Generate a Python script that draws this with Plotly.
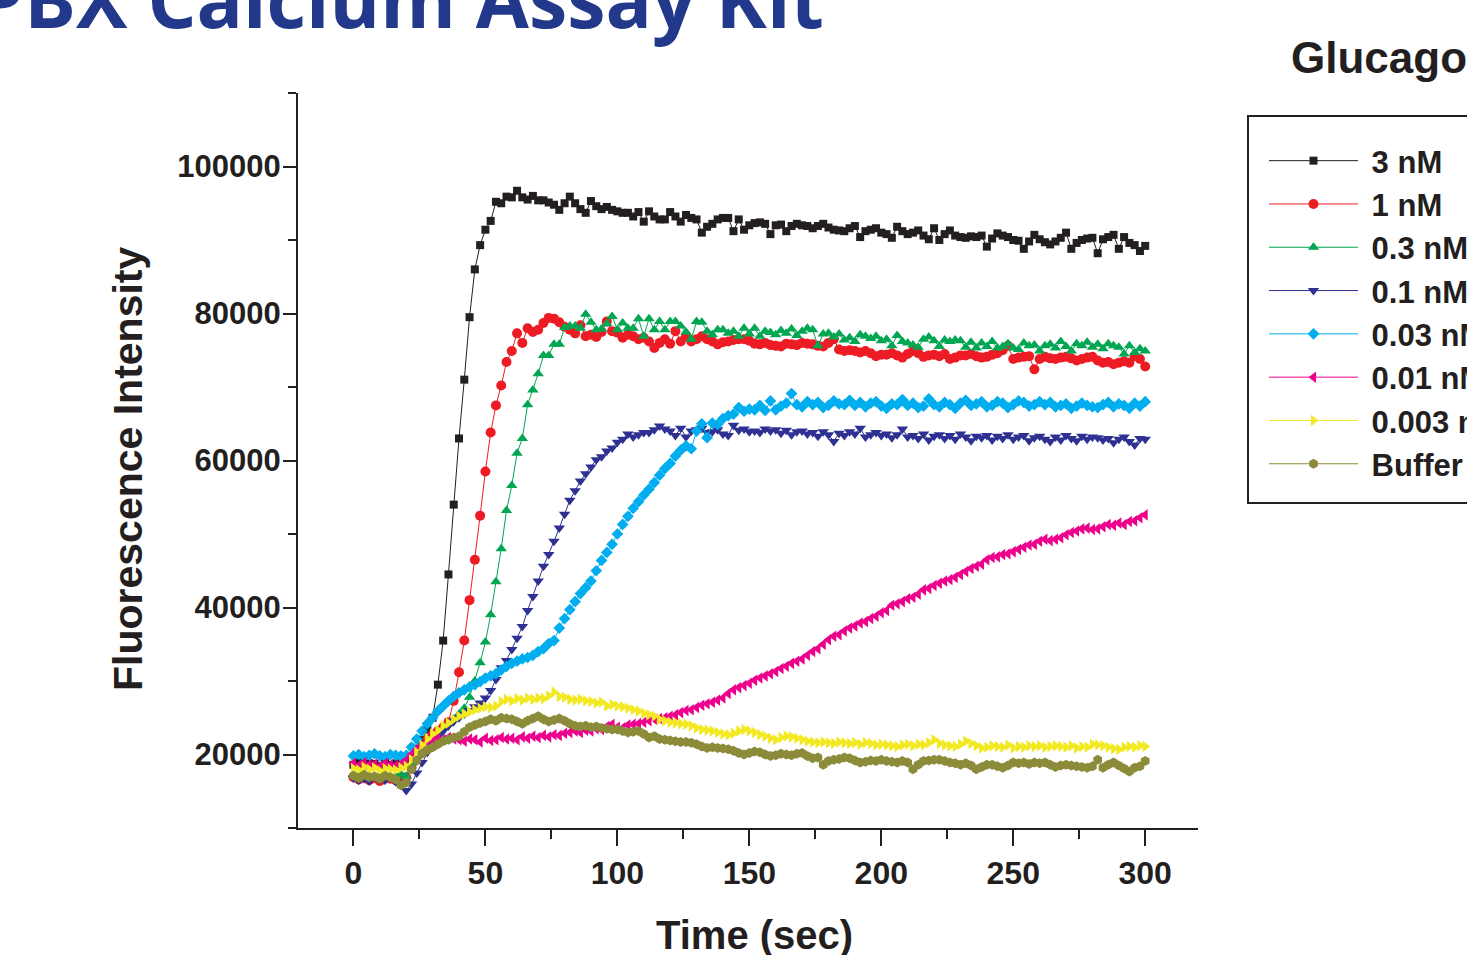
import plotly.graph_objects as go

# Sampling: one read every 2 s from 0 to 300 s
time_s = list(range(0, 302, 2))

# Fluorescence readings, in thousands of counts
nM_3 = [
    18.6, 18.9, 18.5, 18.8, 18.7, 18.4, 18.9, 18.6, 18.8, 18.5, 18.7,
    19.6, 20.8, 22.0, 23.4, 25.0, 29.5, 35.5, 44.5, 54.0, 63.0,
    71.0, 79.5, 86.0, 89.3, 91.4, 92.6, 95.2, 95.0, 95.9, 95.8,
    96.7, 95.8, 95.5, 96.0, 95.4, 95.4, 95.1, 94.8, 94.1, 95.0,
    95.9, 95.0, 94.2, 93.7, 95.3, 94.6, 94.2, 94.5, 94.1, 93.9,
    93.7, 93.7, 93.2, 93.8, 92.5, 93.9, 93.2, 92.8, 92.8, 93.8,
    93.2, 92.5, 93.4, 93.0, 92.8, 91.0, 91.8, 92.2, 92.8, 93.0,
    93.0, 91.2, 92.8, 91.4, 92.0, 92.3, 92.4, 92.2, 90.8, 92.0,
    92.1, 91.2, 91.9, 92.2, 92.0, 91.9, 91.6, 91.9, 92.2, 91.7,
    91.4, 91.3, 91.2, 91.6, 91.9, 90.4, 91.2, 91.4, 91.6, 91.0,
    90.8, 90.3, 91.8, 91.2, 90.8, 91.0, 91.3, 90.6, 90.1, 91.6,
    90.0, 90.8, 91.3, 90.6, 90.4, 90.3, 90.5, 90.4, 90.6, 89.1,
    90.2, 90.9, 90.6, 90.4, 90.0, 89.9, 88.8, 89.8, 90.7, 90.1,
    89.7, 89.4, 89.8, 90.3, 91.0, 88.8, 89.6, 90.0, 90.2, 90.3,
    88.2, 90.1, 90.4, 90.7, 88.8, 90.4, 89.6, 89.3, 88.5, 89.2,
]
nM_1 = [
    16.9, 16.6, 17.0, 16.5, 16.8, 16.4, 16.9, 16.7, 16.5, 16.8, 16.9,
    18.2, 19.6, 21.0, 22.0, 22.7, 23.2, 23.7, 24.4, 27.3, 31.2,
    35.5, 41.0, 46.5, 52.5, 58.5, 63.8, 67.5, 70.2, 73.4, 74.9,
    77.3, 76.0, 78.0, 77.5, 77.8, 78.7, 79.4, 79.3, 78.8, 78.2,
    77.8, 77.3, 78.4, 76.9, 77.1, 76.8, 77.5, 78.9, 77.6, 77.4,
    76.7, 77.1, 76.9, 76.5, 76.7, 76.2, 75.3, 76.0, 76.5, 75.9,
    77.6, 76.2, 76.9, 76.2, 76.5, 76.9, 76.5, 76.2, 75.8, 76.1,
    76.2, 76.4, 76.5, 76.5, 76.3, 75.9, 75.8, 76.0, 75.7, 75.6,
    75.5, 75.9, 75.8, 75.7, 76.0, 75.9, 75.8, 75.6, 75.5, 76.0,
    76.5, 75.1, 74.9, 75.0, 74.9, 74.7, 74.9, 74.6, 74.2, 74.4,
    74.4, 74.6, 74.3, 74.0, 74.5, 74.9, 74.6, 74.1, 74.3, 74.4,
    74.2, 74.5, 73.8, 74.0, 74.3, 74.3, 74.5, 74.2, 74.0, 74.1,
    74.4, 74.6, 75.0, 75.6, 73.8, 74.0, 74.1, 74.2, 72.4, 73.8,
    74.1, 73.9, 73.8, 74.0, 74.1, 73.9, 73.6, 73.8, 74.0, 74.1,
    73.6, 73.3, 73.4, 73.1, 73.3, 73.5, 73.3, 74.2, 73.8, 72.8,
]
nM_03 = [
    17.3, 17.0, 17.4, 17.1, 16.9, 17.3, 17.2, 16.8, 17.1, 17.3, 17.0,
    18.8, 19.9, 20.8, 21.6, 22.3, 22.9, 23.6, 24.2, 24.8, 25.5,
    26.3, 27.8, 30.0, 32.5, 35.3, 39.0, 43.5, 48.0, 53.2, 56.6,
    61.0, 63.0, 67.6, 69.6, 71.8, 74.3, 74.3, 75.8, 75.8, 78.1,
    78.3, 78.3, 78.0, 79.9, 78.8, 77.8, 77.9, 78.6, 79.6, 77.8,
    78.7, 78.0, 78.0, 79.3, 76.9, 79.3, 77.8, 78.9, 77.8, 78.9,
    78.9, 78.3, 77.5, 76.5, 78.9, 78.8, 77.6, 77.1, 77.8, 77.8,
    77.3, 77.6, 76.9, 78.0, 77.2, 78.0, 76.9, 77.6, 77.4, 77.1,
    77.7, 77.3, 77.9, 77.0, 77.6, 78.0, 77.8, 75.6, 77.2, 77.3,
    76.8, 77.2, 76.4, 76.7, 76.2, 77.1, 76.9, 76.6, 76.9, 76.3,
    76.5, 75.6, 77.0, 76.2, 76.0, 75.7, 75.4, 76.5, 76.8, 76.3,
    75.5, 76.4, 76.2, 76.4, 76.3, 75.4, 76.1, 75.3, 76.0, 75.5,
    76.2, 75.3, 75.5, 75.9, 75.3, 75.1, 76.0, 75.6, 75.7, 74.9,
    75.6, 75.8, 75.3, 76.2, 75.5, 74.9, 75.9, 75.6, 76.1, 75.4,
    75.8, 75.2, 75.9, 75.6, 75.4, 74.5, 75.6, 74.7, 75.2, 74.9,
]
nM_01 = [
    16.8, 16.5, 16.7, 16.4, 16.9, 16.6, 16.5, 16.8, 16.3, 15.8, 15.1,
    16.0, 17.5, 18.9, 20.3, 21.5, 22.4, 23.2, 23.9, 24.5, 25.0,
    25.5, 26.0, 26.5, 27.0, 27.7, 28.7, 30.2, 31.8, 32.8, 34.3,
    35.8, 37.4, 39.6, 41.5, 43.6, 45.6, 47.2, 49.0, 50.8, 52.7,
    54.6, 55.9, 57.2, 58.2, 59.1, 60.1, 60.5, 61.3, 61.7, 62.5,
    62.9, 63.6, 63.2, 63.5, 63.8, 63.8, 64.2, 64.7, 64.3, 64.0,
    63.4, 64.4, 63.2, 64.0, 64.2, 64.4, 63.8, 63.9, 64.2, 63.6,
    63.4, 64.8, 64.1, 64.3, 63.9, 64.0, 63.8, 64.3, 64.0, 64.2,
    63.7, 64.1, 63.5, 63.9, 64.0, 63.6, 63.8, 63.3, 63.9, 63.5,
    62.6, 63.7, 63.4, 63.9, 63.6, 64.4, 63.2, 63.5, 63.8, 63.4,
    63.6, 63.1, 63.5, 64.3, 63.2, 63.4, 63.0, 63.6, 62.8, 63.3,
    63.5, 63.0, 63.4, 62.9, 63.6, 63.2, 62.7, 63.3, 63.1, 63.4,
    62.8, 63.3, 63.0, 63.5, 62.9, 63.2, 63.4, 62.7, 63.1, 63.3,
    62.9, 62.6, 63.2, 62.8, 63.4, 63.0, 62.7, 63.3, 62.9, 63.2,
    63.1, 62.8, 63.0, 62.4, 62.9, 63.2, 62.6, 62.1, 63.0, 62.9,
]
nM_003 = [
    19.8, 20.0, 19.7, 19.9, 20.1, 19.8, 19.7, 20.0, 19.9, 19.8, 19.9,
    21.0, 22.1, 23.2, 24.2, 25.0, 25.9, 26.6, 27.3, 27.9, 28.4,
    28.8, 29.2, 29.5, 29.9, 30.4, 30.7, 31.0, 31.5, 32.0, 32.4,
    32.7, 33.0, 33.2, 33.5, 34.0, 34.4, 35.1, 35.5, 37.2, 38.5,
    39.7, 40.8, 41.9, 42.7, 43.6, 45.0, 46.4, 47.5, 48.6, 50.0,
    51.3, 52.4, 53.5, 54.4, 55.3, 56.1, 57.0, 58.0, 58.9, 59.6,
    60.6, 61.4, 62.0, 61.6, 64.0, 65.0, 63.1, 65.1, 64.9, 65.7,
    66.1, 66.3, 67.2, 66.7, 67.0, 66.9, 67.5, 66.8, 68.1, 66.9,
    67.4, 67.8, 69.1, 67.6, 67.3, 68.0, 67.6, 67.9, 67.2, 67.5,
    68.1, 67.7, 67.6, 68.2, 67.5, 67.9, 67.3, 67.8, 68.0, 67.4,
    67.1, 67.7, 67.6, 68.3, 67.5, 67.8, 67.2, 67.4, 68.4, 67.6,
    67.3, 67.9, 67.6, 67.1, 67.8, 68.2, 67.5, 67.7, 68.0, 67.3,
    67.5, 68.0, 67.8, 67.2, 67.6, 68.1, 67.9, 67.4, 67.6, 68.0,
    67.6, 67.9, 67.3, 67.5, 67.7, 67.1, 67.4, 67.8, 67.5, 67.3,
    67.2, 67.6, 67.9, 67.3, 67.7, 67.5, 67.1, 67.8, 67.4, 68.0,
]
nM_001 = [
    18.8, 18.5, 18.9, 18.6, 18.7, 18.4, 18.8, 18.6, 18.5, 18.7, 19.2,
    20.0, 20.7, 21.2, 21.6, 21.9, 22.2, 22.0, 22.3, 22.1, 22.0,
    21.8, 22.1, 22.0, 21.7, 22.2, 21.9, 22.0, 22.3, 22.1, 22.2,
    22.0, 22.4, 22.2, 22.5, 22.3, 22.6, 22.4, 22.7, 22.6, 22.9,
    23.0, 23.2, 23.0, 23.3, 23.2, 23.5, 23.4, 23.8, 24.1, 23.7,
    23.6, 24.0, 24.1, 24.2, 24.4, 24.6, 24.8, 24.9, 25.0, 25.2,
    25.4, 25.7, 26.0, 26.1, 26.4, 26.7, 26.9, 27.1, 27.4, 27.7,
    28.3, 28.8, 29.1, 29.4, 29.7, 30.1, 30.4, 30.7, 31.0, 31.3,
    31.7, 32.0, 32.4, 32.7, 33.0, 33.5, 34.0, 34.4, 35.0, 35.6,
    36.1, 36.3, 36.8, 37.2, 37.5, 37.9, 38.1, 38.5, 38.8, 39.3,
    39.6, 40.3, 40.5, 40.8, 41.2, 41.4, 41.8, 42.4, 42.6, 43.0,
    43.3, 43.6, 43.8, 44.1, 44.5, 44.9, 45.3, 45.6, 45.9, 46.5,
    46.8, 46.9, 47.2, 47.3, 47.6, 47.9, 48.2, 48.5, 48.6, 49.0,
    49.3, 49.1, 49.3, 49.5, 49.9, 50.2, 50.4, 50.7, 50.8, 50.6,
    50.7, 51.0, 51.3, 51.2, 51.5, 51.3, 51.7, 51.8, 52.2, 52.6,
]
nM_0003 = [
    18.1, 17.9, 18.3, 18.0, 18.2, 17.8, 18.1, 18.0, 17.9, 18.2, 18.4,
    19.3, 20.3, 21.3, 22.1, 22.8, 23.3, 23.9, 24.3, 24.8, 25.2,
    25.5, 25.8, 26.1, 26.3, 26.5, 26.4, 26.6, 27.2, 27.5, 27.3,
    27.6, 27.4, 27.7, 27.5, 27.7, 27.6, 28.0, 28.5, 27.9, 27.8,
    27.5, 27.4, 27.5, 27.3, 27.2, 27.0, 27.1, 26.6, 26.8, 26.6,
    26.5, 26.3, 26.1, 25.9, 25.6, 25.4, 25.2, 24.8, 24.6, 24.4,
    24.3, 24.2, 24.1, 23.9, 23.6, 23.4, 23.3, 23.2, 23.0, 22.8,
    22.7, 22.9, 23.2, 23.4, 23.2, 23.0, 22.7, 22.5, 22.2, 22.0,
    22.3, 22.5, 22.4, 22.2, 22.0, 21.8, 21.7, 21.6, 21.7, 21.6,
    21.5, 21.7, 21.6, 21.5, 21.6, 21.4, 21.6, 21.5, 21.3, 21.4,
    21.3, 21.2, 21.1, 21.3, 21.4, 21.2, 21.4, 21.3, 21.6, 22.0,
    21.5, 21.3, 21.2, 21.1, 21.4, 21.8, 21.5, 21.2, 20.9, 21.0,
    21.2, 21.1, 21.0, 21.3, 20.9, 21.1, 21.0, 21.2, 21.1, 21.2,
    21.0, 21.1, 21.2, 21.1, 21.0, 21.2, 20.9, 21.1, 21.0, 21.4,
    21.3, 21.2, 21.0, 20.8, 20.7, 21.0, 21.1, 21.0, 21.2, 21.1,
]
buffer = [
    17.1, 16.8, 17.2, 16.9, 17.0, 16.7, 17.1, 16.9, 16.6, 15.8, 16.2,
    18.0, 19.2, 20.1, 20.6, 21.0, 21.4, 21.8, 22.0, 22.3, 22.5,
    23.1, 23.7, 24.0, 24.3, 24.5, 24.8, 24.6, 25.0, 24.9, 24.8,
    24.5, 24.2, 24.6, 24.9, 25.2, 24.8, 24.5, 24.7, 24.9, 24.6,
    24.2, 23.9, 23.8, 23.9, 23.7, 23.8, 23.6, 23.5, 23.4, 23.4,
    23.2, 23.0, 23.1, 23.2, 22.8, 22.3, 22.5, 22.1, 22.0, 21.9,
    21.8, 21.7, 21.7, 21.6, 21.4, 21.1, 20.9, 21.0, 20.9, 20.8,
    20.7, 20.5, 20.2, 20.0, 20.2, 20.4, 20.3, 20.0, 19.8, 19.9,
    20.1, 20.0, 19.9, 20.1, 20.2, 19.8, 19.5, 19.6, 18.6, 19.1,
    19.3, 19.4, 19.6, 19.5, 19.2, 18.9, 19.0, 19.2, 19.1, 19.3,
    19.1, 19.0, 18.9, 19.1, 18.9, 18.0, 18.6, 19.1, 19.2, 19.3,
    19.3, 19.1, 18.9, 18.8, 18.6, 18.8, 18.5, 18.0, 18.3, 18.6,
    18.6, 18.4, 18.2, 18.5, 18.9, 18.8, 18.9, 18.7, 18.9, 18.8,
    18.9, 18.6, 18.3, 18.5, 18.6, 18.5, 18.4, 18.3, 18.2, 18.4,
    19.3, 18.2, 18.6, 18.9, 18.5, 18.1, 17.7, 18.2, 18.4, 19.1,
]

series_names = ["3 nM", "1 nM", "0.3 nM", "0.1 nM", "0.03 nM", "0.01 nM", "0.003 nM", "Buffer"]
series_values = [nM_3, nM_1, nM_03, nM_01, nM_003, nM_001, nM_0003, buffer]
series_colors = ["#231f20", "#ed1c24", "#00a651", "#2e3192", "#00aeef", "#ec008c", "#f2e923", "#8b8b3a"]
series_symbols = ["square", "circle", "triangle-up", "triangle-down", "diamond",
                  "triangle-left", "triangle-right", "hexagon"]
series_sizes = [8, 10, 10, 10, 9, 10, 10, 10]

x_ticks = [0, 50, 100, 150, 200, 250, 300]
y_ticks = [20000, 40000, 60000, 80000, 100000]

# Page geometry (px)
W, H = 1467, 955
L, R, T, B = 298, 1198, 93, 828
PW, PH = R - L, B - T


def px_x(px):
    return (px - L) / PW


def px_y(py):
    return (B - py) / PH


INK = "#231f20"
FONT = "Liberation Sans, Arial, sans-serif"
NBSP = "\u00a0"

fig = go.Figure()
for name, vals, col, sym, sz in zip(series_names, series_values, series_colors,
                                    series_symbols, series_sizes):
    assert len(vals) == len(time_s), name
    fig.add_trace(go.Scatter(
        x=time_s,
        y=[v * 1000 for v in vals],
        name=NBSP + name,
        mode="lines+markers",
        line=dict(color=col, width=1),
        marker=dict(symbol=sym, size=sz, color=col, line=dict(width=0)),
    ))

fig.update_layout(
    width=W, height=H, autosize=False,
    margin=dict(l=L, r=W - R, t=T, b=H - B, pad=0, autoexpand=False),
    paper_bgcolor="white", plot_bgcolor="white",
    font=dict(family=FONT, color=INK),
    showlegend=True,
    legend=dict(
        x=px_x(1264), y=px_y(134), xanchor="left", yanchor="top",
        bgcolor="rgba(0,0,0,0)", borderwidth=0,
        font=dict(family=FONT, size=31, color=INK, weight="bold"),
        itemwidth=89, tracegroupgap=0,
    ),
    xaxis=dict(
        range=[-21, 320], showgrid=False, zeroline=False,
        showline=True, linecolor=INK, linewidth=2,
        tickmode="array", tickvals=x_ticks, ticktext=[str(v) for v in x_ticks],
        ticks="outside", ticklen=16, tickwidth=2, tickcolor=INK,
        tickfont=dict(family=FONT, size=32, color=INK, weight="bold"),
        ticklabelstandoff=0,
        minor=dict(tickmode="linear", tick0=25, dtick=50, ticks="outside",
                   ticklen=9, tickwidth=2, tickcolor=INK, showgrid=False),
    ),
    yaxis=dict(
        range=[10000, 110000], showgrid=False, zeroline=False,
        showline=True, linecolor=INK, linewidth=2,
        tickmode="array", tickvals=y_ticks, ticktext=[str(v) for v in y_ticks],
        ticks="outside", ticklen=13, tickwidth=2, tickcolor=INK,
        tickfont=dict(family=FONT, size=31, color=INK, weight="bold"),
        ticklabelstandoff=-4,
        minor=dict(tickmode="linear", tick0=10000, dtick=20000, ticks="outside",
                   ticklen=8, tickwidth=2, tickcolor=INK, showgrid=False),
    ),
)

# Axis titles
fig.add_annotation(text="Time (sec)", xref="paper", yref="paper",
                   x=px_x(754), y=px_y(935), xanchor="center", yanchor="middle",
                   showarrow=False,
                   font=dict(family=FONT, size=40, color=INK, weight="bold"))
fig.add_annotation(text="Fluorescence Intensity", xref="paper", yref="paper",
                   x=px_x(128), y=px_y(469), xanchor="center", yanchor="middle",
                   textangle=-90, showarrow=False,
                   font=dict(family=FONT, size=41, color=INK, weight="bold"))

# Legend frame
fig.add_shape(type="rect", xref="paper", yref="paper",
              x0=px_x(1248), x1=px_x(1560), y0=px_y(503), y1=px_y(116),
              line=dict(color=INK, width=2), fillcolor="rgba(0,0,0,0)", layer="above")

# Legend heading
fig.add_annotation(text="Glucagon", xref="paper", yref="paper",
                   x=px_x(1289), y=px_y(58), xanchor="left", yanchor="middle",
                   showarrow=False,
                   font=dict(family=FONT, size=44, color=INK, weight="bold"))

# Page heading
fig.add_annotation(text="PBX Calcium Assay Kit", xref="paper", yref="paper",
                   x=px_x(-26), y=px_y(-1), xanchor="left", yanchor="middle",
                   showarrow=False,
                   font=dict(family="Open Sans, Noto Sans, sans-serif", size=77,
                             color="#22388b", weight="bold"))

fig.write_html("out.html")
